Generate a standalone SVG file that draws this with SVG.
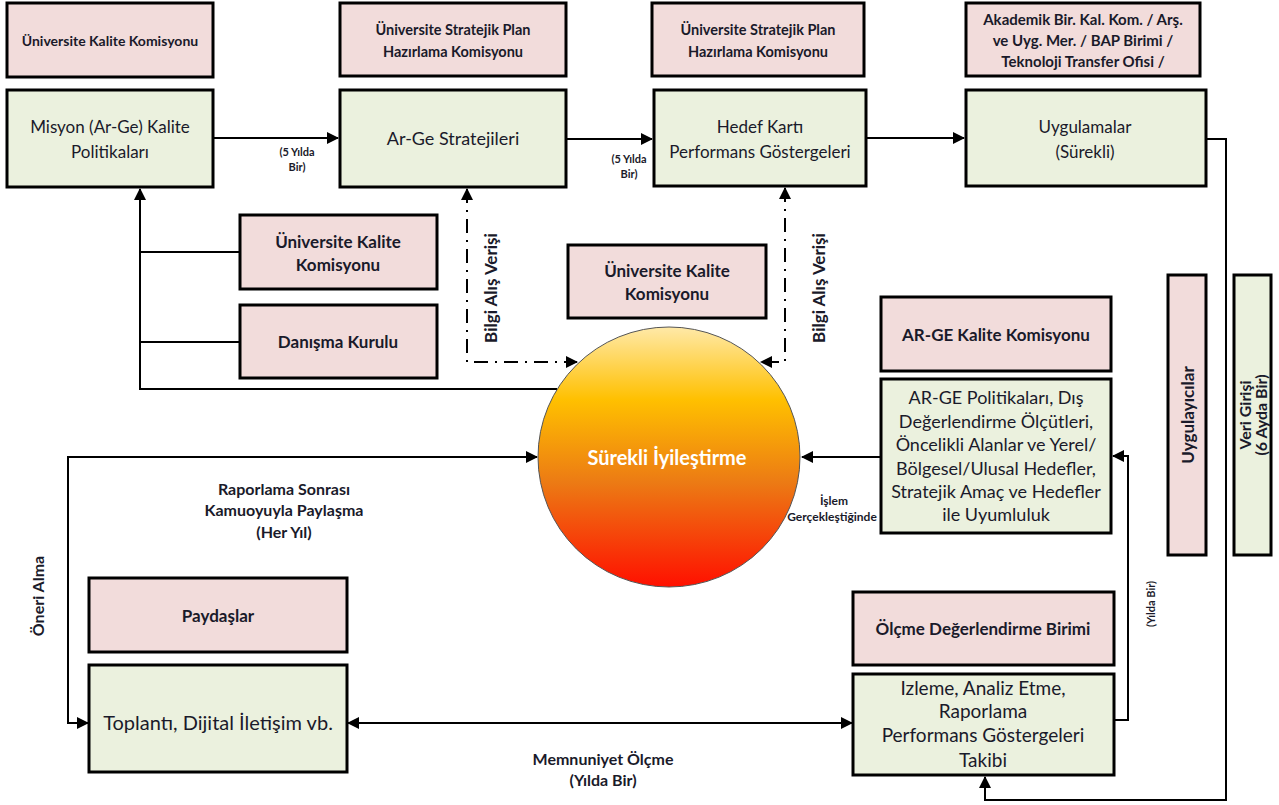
<svg xmlns="http://www.w3.org/2000/svg" width="1279" height="805" viewBox="0 0 1279 805">
<defs>
<marker id="a" viewBox="0 0 12 12" refX="11" refY="6" markerWidth="12" markerHeight="12" markerUnits="userSpaceOnUse" orient="auto-start-reverse">
<path d="M0,0 L12,6 L0,12 z" fill="#000"/>
</marker>
<linearGradient id="g" x1="0" y1="0" x2="0" y2="1">
<stop offset="0" stop-color="#FFE9A8"/>
<stop offset="0.28" stop-color="#FFC000"/>
<stop offset="0.6" stop-color="#EC7A14"/>
<stop offset="1" stop-color="#FF1000"/>
</linearGradient>
<style>
.pink{fill:#F2DCDB;stroke:#000;stroke-width:3}
.green{fill:#EBF1DE;stroke:#000;stroke-width:3}
.ln{fill:none;stroke:#000;stroke-width:2}
.dd{fill:none;stroke:#000;stroke-width:2;stroke-dasharray:14 7 2 7}
text{font-family:Lato,"Liberation Sans",sans-serif;fill:#1a1a2a;text-anchor:middle}
.t{font-weight:bold;font-size:14.5px}
.b{font-weight:bold;font-size:17px}
.r{font-size:17px}
.s{font-weight:bold;font-size:16px}
.xs{font-weight:bold;font-size:11px}
</style>
</defs>
<rect width="1279" height="805" fill="#fff"/>

<g id="connectors">
<path class="ln" d="M213,138 H338" marker-end="url(#a)"/>
<path class="ln" d="M566,139 H652" marker-end="url(#a)"/>
<path class="ln" d="M866,138 H964" marker-end="url(#a)"/>
<path class="ln" d="M1206,139 H1226 V800 H985 V777" marker-end="url(#a)"/>
<path class="ln" d="M557,389 H140 V189" marker-end="url(#a)"/>
<path class="ln" d="M140,252 H240"/>
<path class="ln" d="M140,342 H240"/>
<path class="dd" d="M467,189 V362 H577" marker-start="url(#a)" marker-end="url(#a)"/>
<path class="dd" d="M785,188 V362 H761" marker-start="url(#a)" marker-end="url(#a)"/>
<path class="ln" d="M881,457 H802" marker-end="url(#a)"/>
<path class="ln" d="M1114,720 H1128 V456 H1113" marker-end="url(#a)"/>
<path class="ln" d="M537,457 H68 V723 H88" marker-start="url(#a)" marker-end="url(#a)"/>
<path class="ln" d="M348,723 H852" marker-start="url(#a)" marker-end="url(#a)"/>
</g>

<g id="n-kalite-top"><rect class="pink" x="7" y="3" width="206" height="74"/><text class="t" x="110" y="46" style="font-size:14px">Üniversite Kalite Komisyonu</text></g>
<g id="n-strat1"><rect class="pink" x="340" y="3" width="226" height="73"/><text class="t" x="453" y="35">Üniversite Stratejik Plan</text><text class="t" x="453" y="57">Hazırlama Komisyonu</text></g>
<g id="n-strat2"><rect class="pink" x="652" y="3" width="212" height="73"/><text class="t" x="758" y="35">Üniversite Stratejik Plan</text><text class="t" x="758" y="57">Hazırlama Komisyonu</text></g>
<g id="n-akademik"><rect class="pink" x="966" y="3" width="234" height="73"/><text class="t" x="1083" y="25" style="font-size:15px">Akademik Bir. Kal. Kom. / Arş.</text><text class="t" x="1083" y="46" style="font-size:15px">ve Uyg. Mer. / BAP Birimi /</text><text class="t" x="1083" y="67" style="font-size:15px">Teknoloji Transfer Ofisi /</text></g>

<g id="n-misyon"><rect class="green" x="7" y="90" width="206" height="97"/><text class="r" x="110" y="133">Misyon (Ar-Ge) Kalite</text><text class="r" x="110" y="158">Politikaları</text></g>
<g id="n-arge"><rect class="green" x="340" y="90" width="226" height="97"/><text class="r" x="453" y="145" style="font-size:18px">Ar-Ge Stratejileri</text></g>
<g id="n-hedef"><rect class="green" x="654" y="90" width="212" height="96"/><text class="r" x="760" y="133">Hedef Kartı</text><text class="r" x="760" y="158">Performans Göstergeleri</text></g>
<g id="n-uyg"><rect class="green" x="966" y="90" width="240" height="96"/><text class="r" x="1085" y="133">Uygulamalar</text><text class="r" x="1085" y="158">(Sürekli)</text></g>

<g id="lbl-5y1"><text class="xs" x="297" y="156">(5 Yılda</text><text class="xs" x="297" y="171">Bir)</text></g>
<g id="lbl-5y2"><text class="xs" x="629" y="163">(5 Yılda</text><text class="xs" x="629" y="178">Bir)</text></g>

<g id="n-kalite-left"><rect class="pink" x="240" y="215" width="197" height="74"/><text class="b" x="338" y="248">Üniversite Kalite</text><text class="b" x="338" y="271">Komisyonu</text></g>
<g id="n-danisma"><rect class="pink" x="240" y="305" width="197" height="73"/><text class="b" x="338" y="348">Danışma Kurulu</text></g>
<g id="n-kalite-mid"><rect class="pink" x="568" y="245" width="198" height="73"/><text class="b" x="667" y="277">Üniversite Kalite</text><text class="b" x="667" y="300">Komisyonu</text></g>

<g id="lbl-bilgi1"><text class="s" transform="translate(497,288) rotate(-90)" style="font-size:17px">Bilgi Alış Verişi</text></g>
<g id="lbl-bilgi2"><text class="s" transform="translate(825,288) rotate(-90)" style="font-size:17px">Bilgi Alış Verişi</text></g>

<g id="n-surekli"><ellipse cx="669" cy="457" rx="131" ry="130" fill="url(#g)" stroke="#555" stroke-width="1"/><text x="667" y="465" style="font-weight:bold;font-size:20px;fill:#fff">Sürekli İyileştirme</text></g>

<g id="n-argekom"><rect class="pink" x="881" y="297" width="230" height="74"/><text class="b" x="996" y="341">AR-GE Kalite Komisyonu</text></g>
<g id="n-argepol"><rect class="green" x="881" y="379" width="230" height="154"/>
<text x="996" y="404" style="font-size:18px">AR-GE Politikaları, Dış</text>
<text x="996" y="428" style="font-size:18px">Değerlendirme Ölçütleri,</text>
<text x="996" y="451" style="font-size:18px">Öncelikli Alanlar ve Yerel/</text>
<text x="996" y="475" style="font-size:18px">Bölgesel/Ulusal Hedefler,</text>
<text x="996" y="498" style="font-size:18px">Stratejik Amaç ve Hedefler</text>
<text x="996" y="521" style="font-size:18px">ile Uyumluluk</text></g>

<g id="lbl-islem"><text x="834" y="505" style="font-weight:bold;font-size:12px">İşlem</text><text x="832" y="521" style="font-weight:bold;font-size:12px">Gerçekleştiğinde</text></g>

<g id="n-uygulayici"><rect class="pink" x="1168" y="275" width="38" height="280"/><text class="b" transform="translate(1194,415) rotate(-90)">Uygulayıcılar</text></g>
<g id="n-veri"><rect class="green" x="1234" y="275" width="37" height="280"/><text class="b" transform="translate(1251,415) rotate(-90)" style="font-size:16px">Veri Girişi</text><text class="b" transform="translate(1267,415) rotate(-90)" style="font-size:16px">(6 Ayda Bir)</text></g>

<g id="lbl-rapor"><text class="s" x="284" y="495">Raporlama Sonrası</text><text class="s" x="284" y="516">Kamuoyuyla Paylaşma</text><text class="s" x="284" y="538">(Her Yıl)</text></g>
<g id="lbl-oneri"><text class="s" transform="translate(44,596) rotate(-90)">Öneri Alma</text></g>
<g id="lbl-yilda"><text class="xs" transform="translate(1155,604) rotate(-90)">(Yılda Bir)</text></g>

<g id="n-paydas"><rect class="pink" x="89" y="578" width="258" height="74"/><text class="b" x="218" y="622">Paydaşlar</text></g>
<g id="n-toplanti"><rect class="green" x="89" y="665" width="258" height="107"/><text x="218" y="730" style="font-size:20px">Toplantı, Dijital İletişim vb.</text></g>
<g id="n-olcme"><rect class="pink" x="853" y="592" width="261" height="73"/><text class="b" x="983" y="635">Ölçme Değerlendirme Birimi</text></g>
<g id="n-izleme"><rect class="green" x="853" y="674" width="261" height="101"/>
<text x="983" y="695" style="font-size:19px">Izleme, Analiz Etme,</text>
<text x="983" y="718" style="font-size:19px">Raporlama</text>
<text x="983" y="742" style="font-size:19px">Performans Göstergeleri</text>
<text x="983" y="767" style="font-size:19px">Takibi</text></g>

<g id="lbl-memnun"><text class="s" x="603" y="765">Memnuniyet Ölçme</text><text class="s" x="603" y="786">(Yılda Bir)</text></g>
</svg>
